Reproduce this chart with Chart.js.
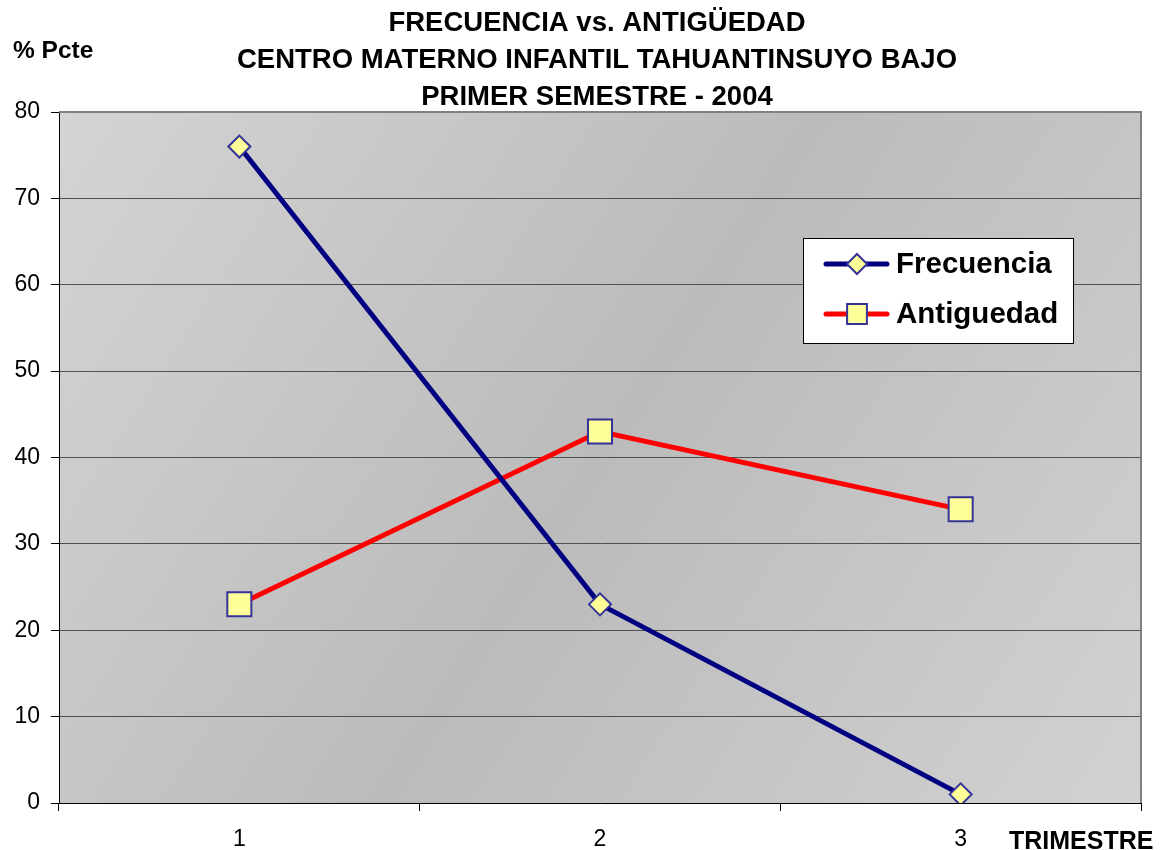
<!DOCTYPE html>
<html>
<head>
<meta charset="utf-8">
<script src="https://cdn.jsdelivr.net/npm/chart.js@4/dist/chart.umd.min.js"></script>
<style>
  html, body { margin: 0; padding: 0; background: #fff; }
  #wrap { width: 1166px; height: 850px; position: relative; }
</style>
</head>
<body>
<div id="wrap"><canvas id="chart"></canvas></div>
<script>
// Frecuencia / antiguedad por trimestre
const trimestres = ['1', '2', '3'];
const frecuencia = [76, 23, 1];
const antiguedad = [23, 43, 34];
const tituloLineas = [
    'FRECUENCIA vs. ANTIGÜEDAD',
    'CENTRO MATERNO INFANTIL TAHUANTINSUYO BAJO',
    'PRIMER SEMESTRE - 2004'
];
const yMin = 0, yMax = 80, yStep = 10;

const FONT = '"Liberation Sans", Arial, sans-serif';

// gray gradient behind the plot + gray frame on top/right
const plotArea = {
    id: 'plotArea',
    beforeDraw(chart) {
        const { ctx, chartArea: a } = chart;
        ctx.save();
        ctx.fillStyle = '#fff';
        ctx.fillRect(0, 0, chart.width, chart.height);
        const g = ctx.createLinearGradient(a.left, a.top, a.right, a.bottom);
        g.addColorStop(0, '#d4d4d4');
        g.addColorStop(0.5, '#bbbbbb');
        g.addColorStop(1, '#d2d2d2');
        ctx.fillStyle = g;
        ctx.fillRect(a.left, a.top, a.right - a.left, a.bottom - a.top);
        ctx.restore();
    },
    afterDraw(chart) {
        const { ctx, chartArea: a } = chart;
        ctx.save();
        ctx.strokeStyle = '#808080';
        ctx.lineWidth = 2;
        ctx.beginPath();
        ctx.moveTo(a.left, a.top);
        ctx.lineTo(a.right, a.top);
        ctx.lineTo(a.right, a.bottom);
        ctx.stroke();
        ctx.restore();
    }
};

// title, axis captions and the boxed legend
const labelsPlugin = {
    id: 'labelsPlugin',
    afterDraw(chart) {
        const { ctx } = chart;
        ctx.save();
        ctx.fillStyle = '#000';
        ctx.textBaseline = 'middle';
        ctx.textAlign = 'center';
        ctx.font = 'bold 27.5px ' + FONT;
        tituloLineas.forEach((t, i) => ctx.fillText(t, 597, 23 + i * 37));

        ctx.textAlign = 'left';
        ctx.font = 'bold 24.5px ' + FONT;
        ctx.fillText('% Pcte', 13, 51);
        ctx.font = 'bold 25px ' + FONT;
        ctx.fillText('TRIMESTRE', 1009, 842);

        // legend
        const bx = 803, by = 238, bw = 270, bh = 105;
        ctx.fillStyle = '#fff';
        ctx.fillRect(bx, by, bw, bh);
        ctx.strokeStyle = '#000';
        ctx.lineWidth = 1;
        ctx.strokeRect(bx + 0.5, by + 0.5, bw, bh);

        const rows = [264, 314];
        const sizes = [10, 14];
        chart.data.datasets.forEach((ds, i) => {
            const y = rows[i];
            ctx.strokeStyle = ds.borderColor;
            ctx.lineWidth = 5;
            ctx.lineCap = 'round';
            ctx.beginPath();
            ctx.moveTo(826, y);
            ctx.lineTo(887, y);
            ctx.stroke();
            ctx.lineCap = 'butt';
            ctx.fillStyle = ds.pointBackgroundColor;
            ctx.strokeStyle = ds.pointBorderColor;
            ctx.lineWidth = ds.pointBorderWidth;
            Chart.helpers.drawPoint(ctx, {
                pointStyle: ds.pointStyle,
                rotation: 0,
                radius: sizes[i],
                borderWidth: ds.pointBorderWidth
            }, 857, y);
            ctx.fillStyle = '#000';
            ctx.font = 'bold 29.5px ' + FONT;
            ctx.textBaseline = 'middle';
            ctx.fillText(ds.label, 896, y + 1);
        });
        ctx.restore();
    }
};

new Chart(document.getElementById('chart'), {
    type: 'line',
    data: {
        labels: trimestres,
        datasets: [
            {
                label: 'Frecuencia',
                data: frecuencia,
                borderColor: '#000080',
                borderWidth: 5,
                pointStyle: 'rectRot',
                pointRadius: 11,
                pointHoverRadius: 11,
                pointBackgroundColor: '#ffff99',
                pointBorderColor: '#333399',
                pointBorderWidth: 2,
                tension: 0
            },
            {
                label: 'Antiguedad',
                data: antiguedad,
                borderColor: '#ff0000',
                borderWidth: 5,
                pointStyle: 'rect',
                pointRadius: 17,
                pointHoverRadius: 17,
                pointBackgroundColor: '#ffff99',
                pointBorderColor: '#333399',
                pointBorderWidth: 2,
                tension: 0
            }
        ]
    },
    options: {
        responsive: true,
        maintainAspectRatio: false,
        animation: false,
        layout: { padding: { top: 112, right: 25, left: 0, bottom: 0 } },
        scales: {
            x: {
                offset: true,
                afterFit: s => { s.height = 47; },
                grid: {
                    offset: true,
                    drawOnChartArea: false,
                    tickLength: 8,
                    tickColor: '#000'
                },
                border: { color: '#000', width: 1 },
                ticks: { color: '#000', padding: 15, font: { family: FONT, size: 23 } }
            },
            y: {
                min: yMin,
                max: yMax,
                afterFit: s => { s.width = 59; },
                grid: { color: '#505050', lineWidth: 1, tickLength: 8, tickColor: '#000' },
                border: { color: '#000', width: 1 },
                ticks: { stepSize: yStep, color: '#000', padding: 11, font: { family: FONT, size: 23 } }
            }
        },
        plugins: {
            legend: { display: false },
            title: { display: false },
            tooltip: { enabled: false }
        }
    },
    plugins: [plotArea, labelsPlugin]
});
</script>
</body>
</html>
